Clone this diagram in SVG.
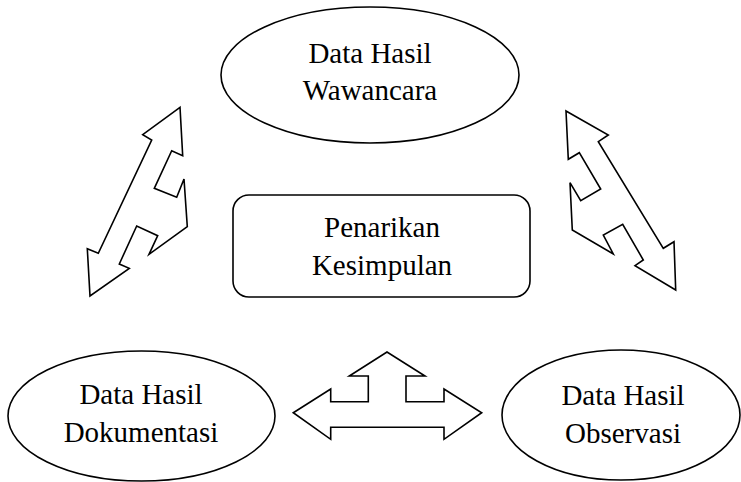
<svg xmlns="http://www.w3.org/2000/svg" width="741" height="482" viewBox="0 0 741 482">
<style>
.shape{fill:#fff;stroke:#000;stroke-width:1.6}
.arr{fill:#fff;stroke:#000;stroke-width:1.6;stroke-linejoin:miter}
text{font-family:"Liberation Serif","Times New Roman",serif;font-size:29px;fill:#000;text-anchor:middle}
</style>
<rect width="741" height="482" fill="#fff"/>
<g id="wawancara">
<ellipse class="shape" cx="370" cy="75" rx="149" ry="68"/>
<text x="370" y="63">Data Hasil</text>
<text x="370" y="100">Wawancara</text>
</g>
<g id="kesimpulan">
<rect class="shape" x="233" y="195" width="297" height="102" rx="16"/>
<text x="382" y="237">Penarikan</text>
<text x="382" y="275">Kesimpulan</text>
</g>
<g id="dokumentasi">
<ellipse class="shape" cx="141.5" cy="416" rx="133.5" ry="65"/>
<text x="141" y="404">Data Hasil</text>
<text x="141" y="442">Dokumentasi</text>
</g>
<g id="observasi">
<ellipse class="shape" cx="621" cy="415" rx="119" ry="65"/>
<text x="623" y="405">Data Hasil</text>
<text x="623" y="443">Observasi</text>
</g>
<g id="connectors">
<polygon class="arr" points="180,107.3 142.7,134.7 151.7,140 98.3,253.3 87.3,248.7 90,296 129.3,268.3 119.3,264 136.7,226 157.7,235.7 149,254.3 187.3,226.7 184,179 176.7,197.3 154.3,188.3 171.7,150.7 182.7,155.7"/>
<polygon class="arr" points="566,111 608.3,135 598.3,141.7 663.3,248.3 674,241.7 675.7,290 635,265.7 643.3,260 622.7,224.3 603.3,235 613.3,254 572.3,230 570,182.7 580.7,200.7 600.7,189 579.3,152.7 568.3,159.3"/>
<polygon class="arr" points="293.3,412.7 330.7,389 330.7,401.7 368.3,401.7 368.3,376 349.3,376 387,352 425,376 406,376 406,401.7 444,401.7 444,389 481.7,412.7 444,439.3 444,427.3 330.7,427.3 330.7,439.3"/>
</g>
</svg>
